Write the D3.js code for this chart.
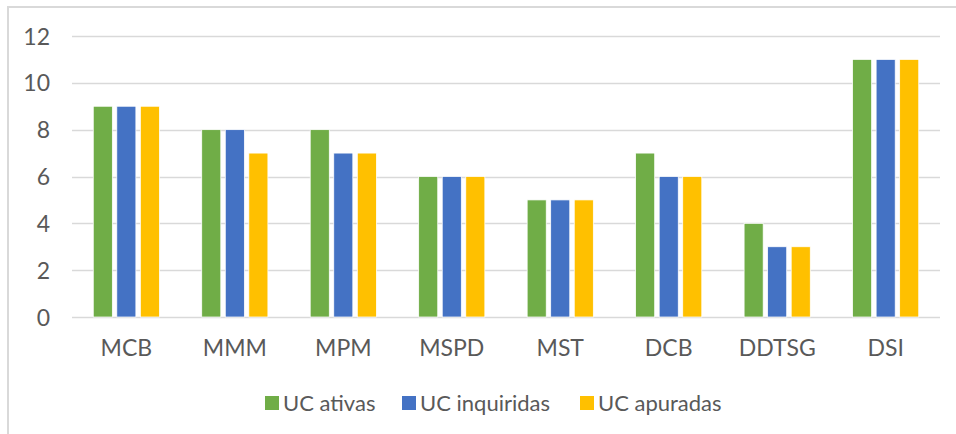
<!DOCTYPE html>
<html>
<head>
<meta charset="utf-8">
<script src="https://cdn.jsdelivr.net/npm/d3@7"></script>
<style>
  body { margin: 0; background: #fff; }
  text { font-family: Lato, "Open Sans", sans-serif; fill: #595959; }
</style>
</head>
<body>
<svg id="chart"></svg>
<script>
const categories = ["MCB", "MMM", "MPM", "MSPD", "MST", "DCB", "DDTSG", "DSI"];
const seriesNames = ["UC ativas", "UC inquiridas", "UC apuradas"];
const ucAtivas = [9, 8, 8, 6, 5, 7, 4, 11];
const ucInquiridas = [9, 8, 7, 6, 5, 6, 3, 11];
const ucApuradas = [9, 7, 7, 6, 5, 6, 3, 11];
const yTicks = [0, 2, 4, 6, 8, 10, 12];
const colors = ["#70AD47", "#4472C4", "#FFC000"];

const seriesValues = [ucAtivas, ucInquiridas, ucApuradas];

const width = 956, height = 434;
const margin = { top: 36, right: 16, bottom: 117, left: 72 };

const svg = d3.select("#chart").attr("width", width).attr("height", height);

// chart area border (only top/left visible in the crop)
svg.append("rect")
    .attr("x", 8).attr("y", 7)
    .attr("width", 980).attr("height", 460)
    .attr("fill", "none")
    .attr("stroke", "#d9d9d9")
    .attr("stroke-width", 2);

const innerW = width - margin.left - margin.right;
const innerH = height - margin.top - margin.bottom;

const chart = svg.append("g")
    .attr("transform", `translate(${margin.left},${margin.top})`);

const x0 = d3.scaleBand().domain(categories).range([0, innerW])
    .paddingInner(0.39).paddingOuter(0.196);
const x1 = d3.scaleBand().domain(seriesNames).range([0, x0.bandwidth()])
    .paddingInner(0.19);
const y = d3.scaleLinear().domain([0, 12]).range([innerH, 0]);

// gridlines
chart.append("g")
    .selectAll("line")
    .data(yTicks)
    .join("line")
    .attr("x1", 0).attr("x2", innerW)
    .attr("y1", d => Math.round(y(d)) + 0.5)
    .attr("y2", d => Math.round(y(d)) + 0.5)
    .attr("stroke", "#d9d9d9")
    .attr("stroke-width", 1.5);

// y axis
const yAxis = d3.axisLeft(y).tickValues(yTicks).tickSize(0).tickPadding(22);
const yAxisG = chart.append("g").call(yAxis);
yAxisG.select(".domain").remove();
yAxisG.selectAll("text").style("font-size", "23px").attr("dy", "0.35em");

// x axis
const xAxis = d3.axisBottom(x0).tickSize(0).tickPadding(23);
const xAxisG = chart.append("g").attr("transform", `translate(0,${innerH})`).call(xAxis);
xAxisG.select(".domain").remove();
xAxisG.selectAll("text").style("font-size", "23px");

// bars
const groups = chart.append("g")
    .selectAll("g")
    .data(categories)
    .join("g")
    .attr("transform", d => `translate(${x0(d)},0)`);

groups.selectAll("rect")
    .data((d, i) => seriesNames.map((s, j) => ({ s, j, v: seriesValues[j][i] })))
    .join("rect")
    .attr("x", d => x1(d.s))
    .attr("width", x1.bandwidth())
    .attr("y", d => y(d.v))
    .attr("height", d => innerH - y(d.v))
    .attr("fill", d => colors[d.j])
    .attr("stroke", "#fff")
    .attr("stroke-width", 0.75);

// legend
const legendX = [265, 402, 580];
const legend = svg.append("g").attr("transform", "translate(0,396)");
const items = legend.selectAll("g")
    .data(seriesNames)
    .join("g")
    .attr("transform", (d, i) => `translate(${legendX[i]},0)`);
items.append("rect")
    .attr("width", 14).attr("height", 14)
    .attr("fill", (d, i) => colors[i]);
items.append("text")
    .attr("x", 18).attr("y", 7)
    .attr("dy", "0.35em")
    .style("font-size", "22px")
    .text(d => d);
</script>
</body>
</html>
